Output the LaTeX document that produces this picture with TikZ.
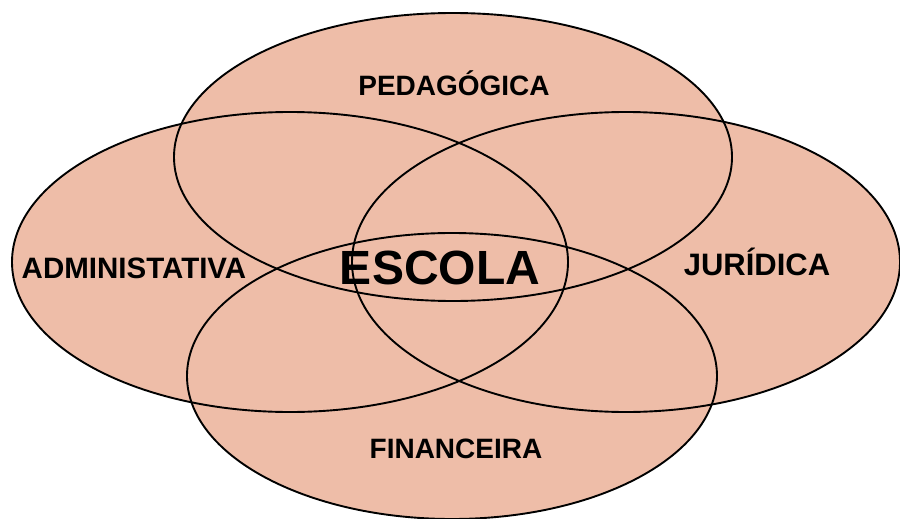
\documentclass[tikz,border=0pt]{standalone}
\usepackage{fontspec}
\setmainfont{Liberation Sans}
\definecolor{salmon}{RGB}{238,189,168}
\tikzset{
  area/.style={fill=salmon},
  rim/.style={draw=black,line width=1.9pt},
  label/.style={font=\fontsize{28}{30}\selectfont\bfseries},
}
\begin{document}
\begin{tikzpicture}[x=1pt,y=-1pt]
    \useasboundingbox (0,0) rectangle (900,519);
    % pedagogica, administrativa, juridica, financeira
    \foreach \cx/\cy/\rx/\ry in {453/157/279/144,290/262/278/150,626/262/274/150,452/376/265/143}
        \fill[area] (\cx,\cy) ellipse [x radius=\rx pt,y radius=\ry pt];
    \foreach \cx/\cy/\rx/\ry in {453/157/279/144,290/262/278/150,626/262/274/150,452/376/265/143}
        \draw[rim] (\cx,\cy) ellipse [x radius=\rx pt,y radius=\ry pt];
    \node[label] (ped) at (454,83) {PEDAGÓGICA};
    \node[label,font=\fontsize{29.5}{31}\selectfont\bfseries] (adm) at (134,268) {ADMINISTATIVA};
    \node[label,font=\fontsize{31}{33}\selectfont\bfseries] (jur) at (757,262) {JURÍDICA};
    \node[label] (fin) at (456,449) {FINANCEIRA};
    \node[font=\fontsize{48}{50}\selectfont\bfseries] (esc) at (440,268) {ESCOLA};
\end{tikzpicture}
\end{document}
